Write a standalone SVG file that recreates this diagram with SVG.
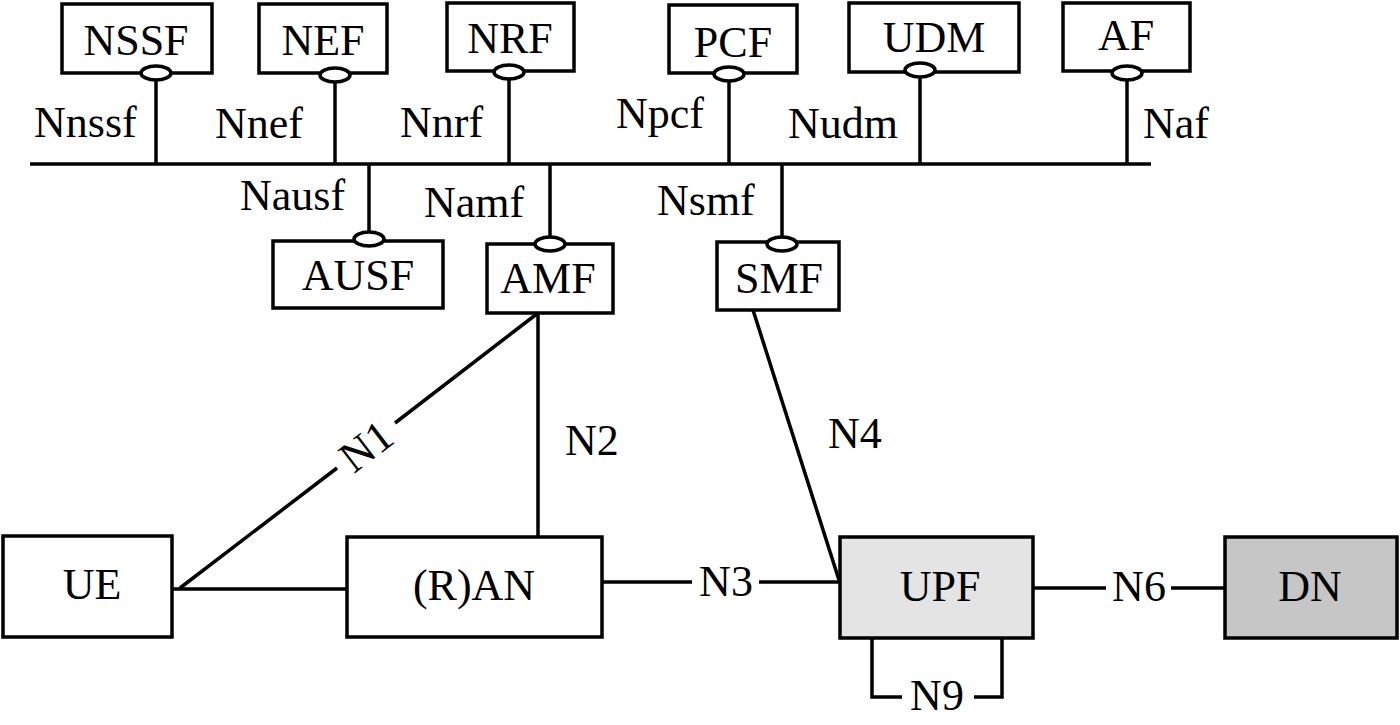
<svg xmlns="http://www.w3.org/2000/svg" width="1400" height="725" viewBox="0 0 1400 725">
<style>
  .box{fill:#fff;stroke:#000;stroke-width:3.5}
  .upf{fill:#e4e4e4;stroke:#000;stroke-width:3.5}
  .dn{fill:#c6c6c6;stroke:#000;stroke-width:3.5}
  .sp{fill:#fff;stroke:#000;stroke-width:3.5}
  .ln{fill:none;stroke:#000;stroke-width:3.5}
  text{font-family:'Liberation Serif','DejaVu Serif','Times New Roman',Times,serif;font-size:44px;fill:#000}
  .c{text-anchor:middle}
</style>
<rect width="1400" height="725" fill="#fff"/>
<g id="connectors" font-family="Liberation Serif, DejaVu Serif, serif">
  <line class="ln" x1="30" y1="164" x2="1151" y2="164"/>
  <line class="ln" x1="156" y1="79" x2="156" y2="164"/>
  <line class="ln" x1="335" y1="81" x2="335" y2="164"/>
  <line class="ln" x1="509" y1="78" x2="509" y2="164"/>
  <line class="ln" x1="729" y1="80" x2="729" y2="164"/>
  <line class="ln" x1="920" y1="76" x2="920" y2="164"/>
  <line class="ln" x1="1127" y1="79" x2="1127" y2="164"/>
  <line class="ln" x1="369" y1="164" x2="369" y2="233"/>
  <line class="ln" x1="550" y1="164" x2="550" y2="238"/>
  <line class="ln" x1="782" y1="164" x2="782" y2="239"/>
  <polyline class="ln" points="180,588 337,468"/>
  <polyline class="ln" points="395,423 538,313"/>
  <line class="ln" x1="538" y1="313" x2="538" y2="537"/>
  <line class="ln" x1="172" y1="589" x2="347" y2="589"/>
  <line class="ln" x1="753" y1="310" x2="839" y2="580"/>
  <line class="ln" x1="602" y1="582" x2="692" y2="582"/>
  <line class="ln" x1="759" y1="582" x2="840" y2="582"/>
  <line class="ln" x1="1033" y1="588" x2="1106" y2="588"/>
  <line class="ln" x1="1171" y1="588" x2="1225" y2="588"/>
  <polyline class="ln" points="872,638 872,697 902,697"/>
  <polyline class="ln" points="974,697 1002,697 1002,638"/>
  <text x="34" y="137">Nnssf</text>
  <text x="215" y="138">Nnef</text>
  <text x="400" y="137">Nnrf</text>
  <text x="616" y="128">Npcf</text>
  <text x="788" y="138">Nudm</text>
  <text x="1143" y="138">Naf</text>
  <text x="240" y="210">Nausf</text>
  <text x="424" y="217">Namf</text>
  <text x="657" y="215">Nsmf</text>
  <text class="c" transform="translate(366,446) rotate(-37.5)" y="15">N1</text>
  <text x="565" y="455">N2</text>
  <text x="828" y="448">N4</text>
  <text class="c" x="726" y="596">N3</text>
  <text class="c" x="1139" y="601">N6</text>
  <text class="c" x="937" y="710">N9</text>
</g>
<g id="NSSF"><rect class="box" x="62" y="4" width="150" height="69"/><text class="c" x="136" y="55">NSSF</text><ellipse class="sp" cx="156" cy="73" rx="15" ry="7"/></g>
<g id="NEF"><rect class="box" x="259" y="4" width="128" height="69"/><text class="c" x="323" y="55">NEF</text><ellipse class="sp" cx="335" cy="75" rx="15" ry="7"/></g>
<g id="NRF"><rect class="box" x="447" y="3" width="127" height="68"/><text class="c" x="510" y="53">NRF</text><ellipse class="sp" cx="509" cy="72" rx="15" ry="7"/></g>
<g id="PCF"><rect class="box" x="669" y="5" width="128" height="68"/><text class="c" x="733" y="57">PCF</text><ellipse class="sp" cx="729" cy="74" rx="15" ry="7"/></g>
<g id="UDM"><rect class="box" x="849" y="3" width="170" height="69"/><text class="c" x="934" y="52">UDM</text><ellipse class="sp" cx="920" cy="70" rx="15" ry="7"/></g>
<g id="AF"><rect class="box" x="1063" y="3" width="127" height="68"/><text class="c" x="1126" y="50">AF</text><ellipse class="sp" cx="1127" cy="73" rx="15" ry="7"/></g>
<g id="AUSF"><rect class="box" x="273" y="241" width="170" height="67"/><text class="c" x="358" y="290">AUSF</text><ellipse class="sp" cx="369" cy="239" rx="15" ry="7"/></g>
<g id="AMF"><rect class="box" x="487" y="244" width="126" height="69"/><text class="c" x="548" y="293">AMF</text><ellipse class="sp" cx="550" cy="244" rx="15" ry="7"/></g>
<g id="SMF"><rect class="box" x="717" y="242" width="122" height="68"/><text class="c" x="779" y="293">SMF</text><ellipse class="sp" cx="782" cy="244" rx="15" ry="7"/></g>
<g id="UE"><rect class="box" x="3" y="536" width="169" height="101"/><text class="c" x="92" y="599">UE</text></g>
<g id="RAN"><rect class="box" x="347" y="537" width="255" height="100"/><text class="c" x="474" y="600">(R)AN</text></g>
<g id="UPF"><rect class="upf" x="840" y="537" width="193" height="101"/><text class="c" x="940" y="601">UPF</text></g>
<g id="DN"><rect class="dn" x="1225" y="537" width="172" height="101"/><text class="c" x="1310" y="601">DN</text></g>
</svg>
